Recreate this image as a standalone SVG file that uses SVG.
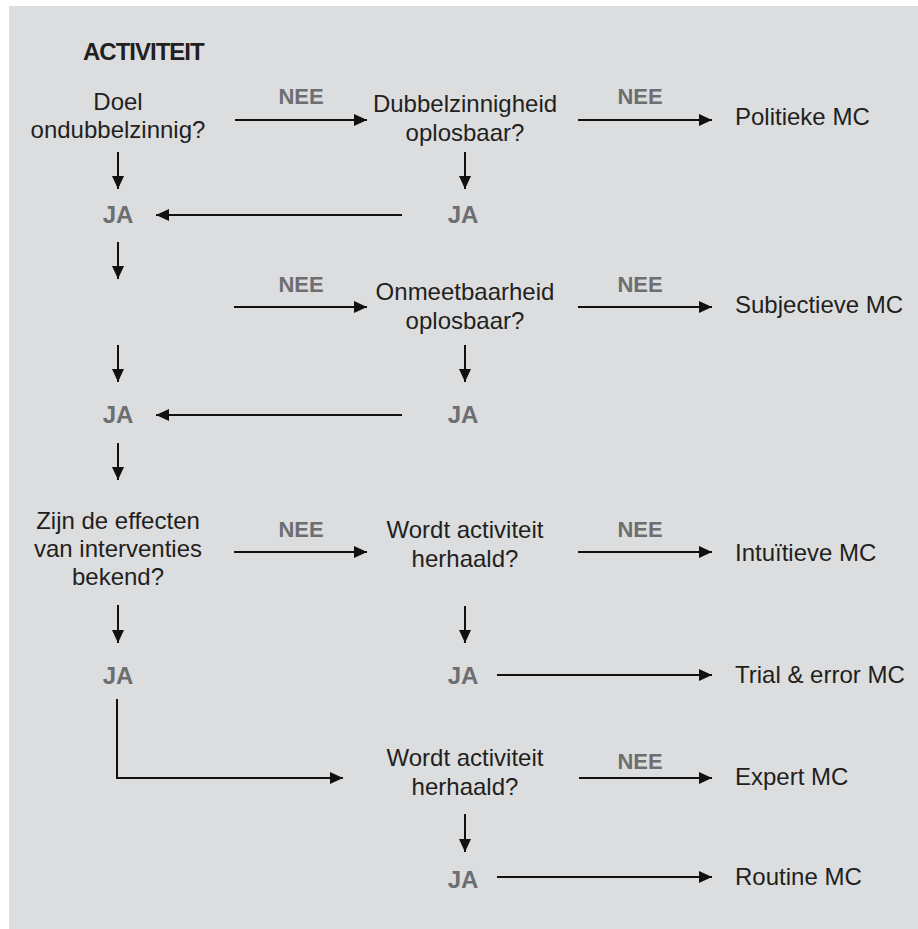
<svg xmlns="http://www.w3.org/2000/svg" width="918" height="929" viewBox="0 0 918 929">
<defs>
<marker id="ah" markerUnits="userSpaceOnUse" markerWidth="13" markerHeight="12" refX="13" refY="6" orient="auto">
<path d="M0,0 L13,6 L0,12 Z" fill="#111"/>
</marker>
<style>
.t{font-family:"Liberation Sans",Arial,sans-serif;font-size:24px;fill:#231f20}
.c{text-anchor:middle}
.l{font-family:"Liberation Sans",Arial,sans-serif;font-size:22px;font-weight:bold;fill:#6d6e70;text-anchor:middle}
.j{font-size:24px}
.h{font-family:"Liberation Sans",Arial,sans-serif;font-size:24px;font-weight:bold;fill:#231f20;letter-spacing:-1px}
.a{fill:none;stroke:#111;stroke-width:2;marker-end:url(#ah)}
</style>
</defs>
<rect x="9" y="6" width="909" height="923" fill="#dcdddf"/>
<text class="h" x="83" y="60">ACTIVITEIT</text>

<g id="q1"><text class="t c" x="118" y="110">Doel</text><text class="t c" x="118" y="138">ondubbelzinnig?</text></g>
<g id="q2"><text class="t c" x="465" y="112">Dubbelzinnigheid</text><text class="t c" x="465" y="141">oplosbaar?</text></g>
<g id="r1"><text class="t" x="735" y="125">Politieke MC</text></g>
<g id="ja1"><text class="l j" x="118" y="223">JA</text></g>
<g id="ja2"><text class="l j" x="463" y="223">JA</text></g>
<g id="q3"><text class="t c" x="465" y="300">Onmeetbaarheid</text><text class="t c" x="465" y="329">oplosbaar?</text></g>
<g id="r2"><text class="t" x="735" y="313">Subjectieve MC</text></g>
<g id="ja3"><text class="l j" x="118" y="423">JA</text></g>
<g id="ja4"><text class="l j" x="463" y="423">JA</text></g>
<g id="q4"><text class="t c" x="118" y="529">Zijn de effecten</text><text class="t c" x="118" y="557">van interventies</text><text class="t c" x="118" y="585">bekend?</text></g>
<g id="q5"><text class="t c" x="465" y="538">Wordt activiteit</text><text class="t c" x="465" y="567">herhaald?</text></g>
<g id="r3"><text class="t" x="735" y="561">Intuïtieve MC</text></g>
<g id="ja5"><text class="l j" x="118" y="684">JA</text></g>
<g id="ja6"><text class="l j" x="463" y="684">JA</text></g>
<g id="r4"><text class="t" x="735" y="683">Trial &amp; error MC</text></g>
<g id="q6"><text class="t c" x="465" y="766">Wordt activiteit</text><text class="t c" x="465" y="795">herhaald?</text></g>
<g id="r5"><text class="t" x="735" y="785">Expert MC</text></g>
<g id="ja7"><text class="l j" x="463" y="888">JA</text></g>
<g id="r6"><text class="t" x="735" y="885">Routine MC</text></g>

<g id="connectors">
<line class="a" x1="235" y1="120" x2="367" y2="120"/>
<text class="l" x="301" y="104">NEE</text>
<line class="a" x1="578" y1="120" x2="712" y2="120"/>
<text class="l" x="640" y="104">NEE</text>
<line class="a" x1="118" y1="152" x2="118" y2="189"/>
<line class="a" x1="465" y1="152" x2="465" y2="189"/>
<line class="a" x1="402" y1="215" x2="156" y2="215"/>
<line class="a" x1="118" y1="242" x2="118" y2="279"/>
<line class="a" x1="234" y1="307" x2="367" y2="307"/>
<text class="l" x="301" y="292">NEE</text>
<line class="a" x1="578" y1="307" x2="712" y2="307"/>
<text class="l" x="640" y="292">NEE</text>
<line class="a" x1="118" y1="345" x2="118" y2="382"/>
<line class="a" x1="465" y1="345" x2="465" y2="382"/>
<line class="a" x1="402" y1="415" x2="156" y2="415"/>
<line class="a" x1="118" y1="443" x2="118" y2="480"/>
<line class="a" x1="234" y1="552" x2="367" y2="552"/>
<text class="l" x="301" y="537">NEE</text>
<line class="a" x1="578" y1="552" x2="712" y2="552"/>
<text class="l" x="640" y="537">NEE</text>
<line class="a" x1="118" y1="605" x2="118" y2="643"/>
<line class="a" x1="465" y1="606" x2="465" y2="643"/>
<line class="a" x1="497" y1="675" x2="712" y2="675"/>
<path class="a" d="M117,699 V778 H343"/>
<line class="a" x1="579" y1="778" x2="712" y2="778"/>
<text class="l" x="640" y="769">NEE</text>
<line class="a" x1="465" y1="814" x2="465" y2="852"/>
<line class="a" x1="497" y1="877" x2="712" y2="877"/>
</g>
</svg>
